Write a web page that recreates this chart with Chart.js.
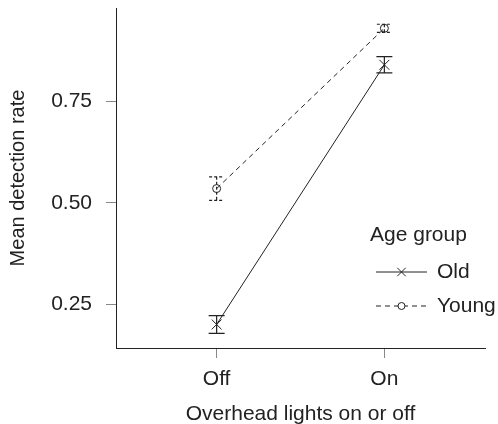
<!DOCTYPE html>
<html>
<head>
<meta charset="utf-8">
<script src="https://cdn.jsdelivr.net/npm/chart.js@4.4.0/dist/chart.umd.min.js"></script>
<style>
  body { margin: 0; background: #fff; }
  #wrap { width: 498px; height: 424px; }
</style>
</head>
<body>
<div id="wrap"><canvas id="myChart"></canvas></div>
<script>
// Dados
const categorias = ["Off", "On"];
const grupos = ["Old", "Young"];
const mediaOld = [0.20, 0.84];
const erroOld = [0.022, 0.02];
const mediaYoung = [0.535, 0.93];
const erroYoung = [0.029, 0.01];
const ticksY = [0.25, 0.50, 0.75];

const fonte = "'Liberation Sans', Arial, Helvetica, sans-serif";
const corTexto = "#222";

function pontos(valores) {
  return valores.map((v, i) => ({ x: i, y: v }));
}

const data = {
  datasets: [
    {
      label: grupos[0],
      data: pontos(mediaOld),
      erros: erroOld,
      borderColor: "#222",
      backgroundColor: "#222",
      borderWidth: 1,
      pointStyle: "crossRot",
      pointRadius: 7,
      pointBorderWidth: 1,
      capHalf: 8,
      barDash: [],
      legendRadius: 6,
    },
    {
      label: grupos[1],
      data: pontos(mediaYoung),
      erros: erroYoung,
      borderColor: "#222",
      backgroundColor: "rgba(0,0,0,0)",
      borderWidth: 1,
      borderDash: [5, 4],
      pointStyle: "circle",
      pointRadius: 4,
      pointBorderWidth: 1,
      capHalf: 7.5,
      barDash: [3, 2],
      legendRadius: 3.5,
    },
  ],
};

// barras de erro
const errorBars = {
  id: "errorBars",
  afterDatasetsDraw(chart) {
    const ctx = chart.ctx;
    const xs = chart.scales.x;
    const ys = chart.scales.y;
    chart.data.datasets.forEach((ds) => {
      ds.data.forEach((p, i) => {
        const x = xs.getPixelForValue(p.x);
        const yTop = ys.getPixelForValue(p.y + ds.erros[i]);
        const yBot = ys.getPixelForValue(p.y - ds.erros[i]);
        ctx.save();
        ctx.strokeStyle = ds.borderColor;
        ctx.lineWidth = 1.2;
        ctx.setLineDash(ds.barDash);
        ctx.beginPath();
        ctx.moveTo(x, yTop);
        ctx.lineTo(x, yBot);
        ctx.moveTo(x - ds.capHalf, yTop);
        ctx.lineTo(x + ds.capHalf, yTop);
        ctx.moveTo(x - ds.capHalf, yBot);
        ctx.lineTo(x + ds.capHalf, yBot);
        ctx.stroke();
        ctx.restore();
      });
    });
  },
};

// legenda desenhada à mão
const legenda = {
  id: "legenda",
  afterDraw(chart) {
    const ctx = chart.ctx;
    ctx.save();
    ctx.font = "21px " + fonte;
    ctx.fillStyle = corTexto;
    ctx.textBaseline = "middle";
    ctx.textAlign = "left";
    ctx.fillText("Age group", 370, 235);
    chart.data.datasets.forEach((ds, i) => {
      const y = 272 + i * 34;
      ctx.strokeStyle = ds.borderColor;
      ctx.lineWidth = 1;
      ctx.setLineDash(ds.borderDash || []);
      ctx.beginPath();
      ctx.moveTo(376, y);
      ctx.lineTo(427, y);
      ctx.stroke();
      ctx.setLineDash([]);
      ctx.fillStyle = "#fff";
      Chart.helpers.drawPoint(ctx, {
        pointStyle: ds.pointStyle,
        radius: ds.legendRadius,
        rotation: 0,
        borderWidth: 1,
      }, 401.5, y);
      ctx.fillStyle = corTexto;
      ctx.fillText(ds.label, 437, y);
    });
    ctx.restore();
  },
};

function semPadding(s) {
  s.paddingTop = 0;
  s.paddingBottom = 0;
  s.paddingLeft = 0;
  s.paddingRight = 0;
}

const config = {
  type: "line",
  data: data,
  options: {
    responsive: true,
    maintainAspectRatio: false,
    animation: false,
    layout: {
      padding: { left: 0, right: 13, top: 6, bottom: 0 },
    },
    plugins: {
      legend: { display: false },
      tooltip: { enabled: false },
    },
    scales: {
      x: {
        type: "linear",
        min: -0.6,
        max: 1.6,
        afterBuildTicks: (s) => { s.ticks = categorias.map((c, i) => ({ value: i })); },
        afterFit: (s) => { s.height = 76; semPadding(s); },
        ticks: {
          callback: (v) => categorias[v],
          font: { family: fonte, size: 21 },
          color: corTexto,
          padding: 9,
          maxRotation: 0,
        },
        grid: { drawOnChartArea: false, drawTicks: true, tickLength: 10, color: "#888" },
        border: { display: true, color: "#222", width: 1 },
        title: {
          display: true,
          text: "Overhead lights on or off",
          font: { family: fonte, size: 21 },
          color: corTexto,
          padding: { top: 0, bottom: -3 },
        },
      },
      y: {
        type: "linear",
        min: 0.142,
        max: 0.98,
        afterBuildTicks: (s) => { s.ticks = ticksY.map((v) => ({ value: v })); },
        afterFit: (s) => { s.width = 116; semPadding(s); },
        ticks: {
          callback: (v) => v.toFixed(2),
          font: { family: fonte, size: 21 },
          color: corTexto,
          padding: 14,
        },
        grid: { drawOnChartArea: false, drawTicks: true, tickLength: 10, color: "#888" },
        border: { display: true, color: "#222", width: 1 },
        title: {
          display: true,
          text: "Mean detection rate",
          font: { family: fonte, size: 20 },
          color: corTexto,
          padding: { top: 6, bottom: 0 },
        },
      },
    },
  },
  plugins: [errorBars, legenda],
};

const myChart = new Chart(document.getElementById("myChart"), config);
</script>
</body>
</html>
